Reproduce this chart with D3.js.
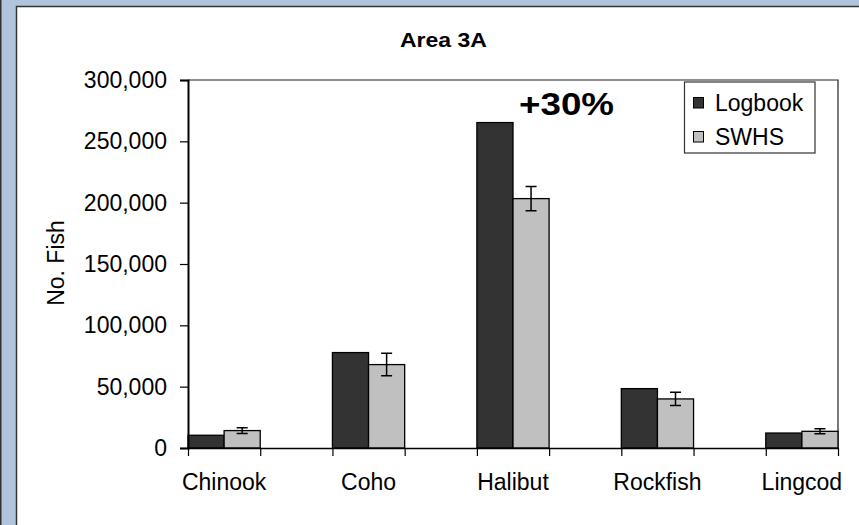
<!DOCTYPE html>
<html>
<head>
<meta charset="utf-8">
<script src="https://cdn.jsdelivr.net/npm/d3@7"></script>
<style>
  html, body { margin: 0; padding: 0; background: #b0c4de; }
  svg { display: block; font-family: "Liberation Sans", Arial, sans-serif; }
</style>
</head>
<body>
<div id="chart"></div>
<script>
// Data
const categories = ['Chinook', 'Coho', 'Halibut', 'Rockfish', 'Lingcod'];
const seriesNames = ['Logbook', 'SWHS'];
const logbook = [10400, 77800, 265300, 48400, 12200];
const swhs = [14200, 68000, 203300, 40000, 13600];
const swhsErr = [2400, 9200, 9800, 5400, 2000];
const yTicks = [0, 50000, 100000, 150000, 200000, 250000, 300000];

const width = 859,
	height = 525;
const colors = ['#333333', '#c0c0c0'];
const plot = { left: 188, right: 838, top: 80, bottom: 448 };

const svg = d3.select('#chart').append('svg')
	.attr('width', width)
	.attr('height', height);

// Frame: blue border with white panel
svg.append('rect')
	.attr('width', width).attr('height', height)
	.style('fill', '#b0c4de');
svg.append('rect')
	.attr('x', 0).attr('y', 0).attr('width', 1.5).attr('height', height)
	.style('fill', '#333');
svg.append('rect')
	.attr('x', 16.5).attr('y', 6.5)
	.attr('width', width + 10).attr('height', height + 10)
	.style('fill', '#fff')
	.style('stroke', '#333')
	.style('stroke-width', 1.5);

// Scales: 9 category slots, one empty slot between each fish
const nSlots = categories.length * 2 - 1;
const slot = d3.scaleLinear().domain([0, nSlots]).range([plot.left, plot.right]);
const y = d3.scaleLinear().domain([0, 300000]).range([plot.bottom, plot.top]);
const slotW = slot(1) - slot(0);

// Plot area border (top/right)
svg.append('path')
	.attr('d', `M${plot.left},${plot.top}H${plot.right}V${plot.bottom}`)
	.style('fill', 'none')
	.style('stroke', '#222')
	.style('stroke-width', 1.2);

// Bars
const series = [logbook, swhs];
series.forEach((vals, s) => {
	svg.append('g').selectAll('rect')
		.data(vals)
		.enter()
		.append('rect')
		.attr('x', (d, i) => slot(i * 2) + s * slotW / 2)
		.attr('y', d => y(d))
		.attr('width', slotW / 2)
		.attr('height', d => y(0) - y(d))
		.style('fill', colors[s])
		.style('stroke', '#000')
		.style('stroke-width', 1.3);
});

// Error bars on SWHS
const cap = 5.5;
const eb = svg.append('g').selectAll('g')
	.data(swhs)
	.enter()
	.append('g')
	.attr('transform', (d, i) => 'translate(' + (slot(i * 2) + slotW * 0.75) + ',0)');
eb.append('path')
	.attr('d', (d, i) => {
		const y1 = y(d + swhsErr[i]), y2 = y(d - swhsErr[i]);
		return `M0,${y1}V${y2}M${-cap},${y1}H${cap}M${-cap},${y2}H${cap}`;
	})
	.style('fill', 'none')
	.style('stroke', '#000')
	.style('stroke-width', 1.5);

// Y axis
const yAxis = svg.append('g')
	.attr('transform', 'translate(' + plot.left + ',0)')
	.call(d3.axisLeft(y).tickValues(yTicks).tickFormat(d3.format(',')).tickSize(8).tickPadding(13));
yAxis.select('.domain').style('stroke', '#000').style('stroke-width', 2);
yAxis.selectAll('.tick line').style('stroke', '#000').style('stroke-width', 1.2);
yAxis.selectAll('text')
	.style('font-family', '"Liberation Sans", Arial, sans-serif')
	.style('font-size', '23px')
	.style('fill', '#000');

// X axis (ticks at every slot boundary, no labels)
const xAxis = svg.append('g')
	.attr('transform', 'translate(0,' + plot.bottom + ')')
	.call(d3.axisBottom(slot).tickValues(d3.range(nSlots + 1)).tickFormat('').tickSize(8).tickSizeOuter(0));
xAxis.select('.domain').style('stroke', '#000').style('stroke-width', 1.6);
xAxis.selectAll('.tick line').style('stroke', '#000').style('stroke-width', 1.2);

svg.append('g').selectAll('text')
	.data(categories)
	.enter()
	.append('text')
	.attr('x', (d, i) => slot(i * 2) + slotW / 2)
	.attr('y', 490)
	.attr('text-anchor', 'middle')
	.style('font-size', '23px')
	.style('fill', '#000')
	.text(d => d);

// Y axis title
svg.append('text')
	.attr('transform', 'translate(56,' + 263 + ') rotate(-90)')
	.attr('text-anchor', 'middle')
	.attr('dy', '0.35em')
	.style('font-size', '23px')
	.style('fill', '#000')
	.text('No. Fish');

// Chart title
svg.append('text')
	.attr('x', 400).attr('y', 46.5)
	.attr('textLength', 87)
	.attr('lengthAdjust', 'spacingAndGlyphs')
	.style('font-size', '19.5px')
	.style('font-weight', 'bold')
	.style('fill', '#000')
	.text('Area 3A');

// Annotation
svg.append('text')
	.attr('x', 519).attr('y', 115)
	.attr('textLength', 95)
	.attr('lengthAdjust', 'spacingAndGlyphs')
	.style('font-size', '31px')
	.style('font-weight', 'bold')
	.style('fill', '#000')
	.text('+30%');

// Legend
const legend = svg.append('g');
legend.append('rect')
	.attr('x', 684.5).attr('y', 82)
	.attr('width', 130.5).attr('height', 71)
	.style('fill', '#fff')
	.style('stroke', '#333')
	.style('stroke-width', 1.2);
const item = legend.selectAll('g.item')
	.data(seriesNames)
	.enter()
	.append('g')
	.attr('class', 'item')
	.attr('transform', (d, i) => 'translate(0,' + (102.5 + i * 34) + ')');
item.append('rect')
	.attr('x', 693.5).attr('y', -5)
	.attr('width', 10).attr('height', 10.5)
	.style('fill', (d, i) => colors[i])
	.style('stroke', '#000')
	.style('stroke-width', 1);
item.append('text')
	.attr('x', 715)
	.attr('y', 8)
	.style('font-size', '23px')
	.style('fill', '#000')
	.text(d => d);
</script>
</body>
</html>
